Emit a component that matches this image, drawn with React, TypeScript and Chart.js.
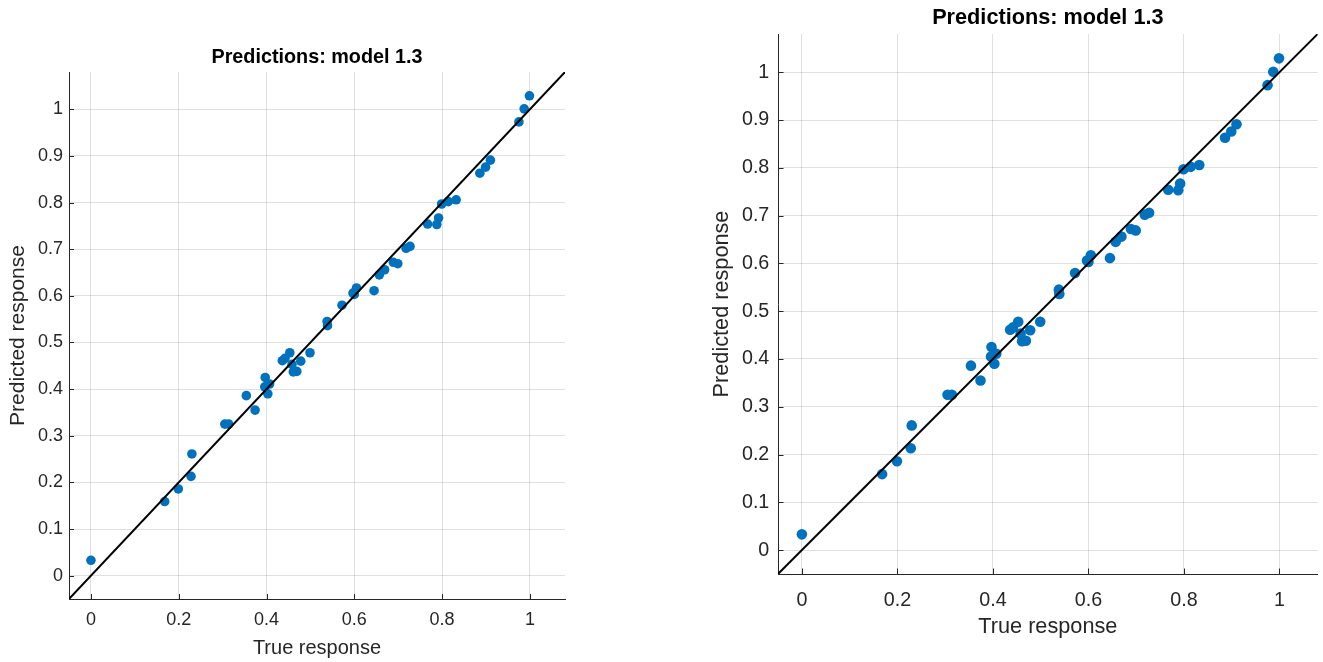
import React, { useEffect, useRef } from "react";
import { Chart, registerables } from "chart.js";

Chart.register(...registerables);

// ---- data ----
const TRUE_RESPONSE = [
  0.0, 0.168, 0.199, 0.228, 0.23, 0.305, 0.314, 0.354, 0.374, 0.396, 0.397, 0.403,
  0.407, 0.436, 0.442, 0.453, 0.458, 0.461, 0.469, 0.478, 0.499, 0.538, 0.539, 0.572,
  0.597, 0.6, 0.605, 0.645, 0.657, 0.669, 0.689, 0.699, 0.718, 0.727, 0.767, 0.788,
  0.792, 0.799, 0.814, 0.832, 0.886, 0.899, 0.91, 0.975, 0.987, 0.999,
];
const PREDICTED_RESPONSE = [
  0.033, 0.159, 0.186, 0.213, 0.261, 0.325, 0.325, 0.386, 0.355, 0.405, 0.425, 0.39,
  0.411, 0.461, 0.466, 0.478, 0.453, 0.437, 0.438, 0.46, 0.478, 0.545, 0.536, 0.58,
  0.606, 0.603, 0.617, 0.611, 0.645, 0.656, 0.672, 0.669, 0.702, 0.706, 0.754, 0.753,
  0.767, 0.797, 0.802, 0.806, 0.863, 0.876, 0.891, 0.973, 1.001, 1.029,
];
const X_TICKS = [0, 0.2, 0.4, 0.6, 0.8, 1];
const X_TICK_LABELS = ["0", "0.2", "0.4", "0.6", "0.8", "1"];
const Y_TICKS = [0, 0.1, 0.2, 0.3, 0.4, 0.5, 0.6, 0.7, 0.8, 0.9, 1];
const Y_TICK_LABELS = ["0", "0.1", "0.2", "0.3", "0.4", "0.5", "0.6", "0.7", "0.8", "0.9", "1"];
const AXIS_LIMITS = [-0.05, 1.08];
const TITLE = "Predictions: model 1.3";
const X_LABEL = "True response";
const Y_LABEL = "Predicted response";

const FONT = "'Liberation Sans', Arial, Helvetica, sans-serif";
const AXIS_COLOR = "#262626";
const GRID_COLOR = "rgba(38,38,38,0.14)";
const MARKER_COLOR = "#0072BD";

type Layout = {
  width: number;
  height: number;
  tickFont: number;
  xLabelFont: number;
  yLabelFont: number;
  titleFont: number;
  titleY: number;
  padding: { left: number; top: number; right: number; bottom: number };
  yWidth: number;
  xHeight: number;
  yTickPad: number;
  xTickPad: number;
  pointRadius: number;
  tickLen: number;
};

const LEFT_LAYOUT: Layout = {
  width: 661,
  height: 662,
  tickFont: 18,
  xLabelFont: 20,
  yLabelFont: 21,
  titleFont: 19.8,
  titleY: 57.5,
  padding: { left: 5.4, top: 72, right: 96, bottom: 2 },
  yWidth: 63.6,
  xHeight: 61,
  yTickPad: 6,
  xTickPad: 10.6,
  pointRadius: 4.8,
  tickLen: 5,
};

const RIGHT_LAYOUT: Layout = {
  width: 662,
  height: 662,
  tickFont: 19.7,
  xLabelFont: 21.7,
  yLabelFont: 21.7,
  titleFont: 21.7,
  titleY: 18.5,
  padding: { left: 48.4, top: 34, right: 1, bottom: 21.5 },
  yWidth: 68.6,
  xHeight: 66.5,
  yTickPad: 8.7,
  xTickPad: 15,
  pointRadius: 5.3,
  tickLen: 5.5,
};

function buildConfig(L: Layout): any {
  const points = TRUE_RESPONSE.map((x, i) => ({ x, y: PREDICTED_RESPONSE[i] }));
  const identity = [
    { x: AXIS_LIMITS[0], y: AXIS_LIMITS[0] },
    { x: AXIS_LIMITS[1], y: AXIS_LIMITS[1] },
  ];
  const decorations = {
    id: "matlabDecorations",
    afterDraw(chart: any) {
      const { ctx, chartArea, scales } = chart;
      ctx.save();
      // inward tick marks
      ctx.strokeStyle = AXIS_COLOR;
      ctx.lineWidth = 1;
      ctx.beginPath();
      X_TICKS.forEach((v) => {
        const px = Math.round(scales.x.getPixelForValue(v)) + 0.5;
        ctx.moveTo(px, chartArea.bottom);
        ctx.lineTo(px, chartArea.bottom - L.tickLen);
      });
      Y_TICKS.forEach((v) => {
        const py = Math.round(scales.y.getPixelForValue(v)) + 0.5;
        ctx.moveTo(chartArea.left, py);
        ctx.lineTo(chartArea.left + L.tickLen, py);
      });
      ctx.stroke();
      // title centred over the axes
      ctx.fillStyle = "#000000";
      ctx.font = `bold ${L.titleFont}px ${FONT}`;
      ctx.textAlign = "center";
      ctx.textBaseline = "middle";
      ctx.fillText(TITLE, (chartArea.left + chartArea.right) / 2, L.titleY);
      ctx.restore();
    },
  };
  return {
    type: "scatter",
    data: {
      datasets: [
        {
          type: "line",
          data: identity,
          borderColor: "#000000",
          borderWidth: 2,
          pointRadius: 0,
          fill: false,
        },
        {
          data: points,
          backgroundColor: MARKER_COLOR,
          borderColor: MARKER_COLOR,
          borderWidth: 0,
          pointRadius: L.pointRadius,
        },
      ],
    },
    options: {
      animation: false,
      responsive: false,
      events: [],
      layout: { padding: L.padding },
      plugins: {
        legend: { display: false },
        tooltip: { enabled: false },
        title: { display: false },
      },
      scales: {
        x: {
          type: "linear",
          min: AXIS_LIMITS[0],
          max: AXIS_LIMITS[1],
          afterBuildTicks: (scale: any) => {
            scale.ticks = X_TICKS.map((v) => ({ value: v }));
          },
          afterFit: (scale: any) => {
            scale.height = L.xHeight;
          },
          ticks: {
            autoSkip: false,
            maxRotation: 0,
            padding: L.xTickPad,
            color: AXIS_COLOR,
            font: { family: FONT, size: L.tickFont, lineHeight: 1.2 },
            callback: (_v: any, i: number) => X_TICK_LABELS[i],
          },
          grid: { color: GRID_COLOR, drawTicks: false, lineWidth: 1 },
          border: { display: true, color: AXIS_COLOR, width: 1 },
          title: {
            display: true,
            text: X_LABEL,
            color: AXIS_COLOR,
            font: { family: FONT, size: L.xLabelFont, lineHeight: 1.2 },
            padding: { top: 0, bottom: 0 },
          },
        },
        y: {
          type: "linear",
          min: AXIS_LIMITS[0],
          max: AXIS_LIMITS[1],
          afterBuildTicks: (scale: any) => {
            scale.ticks = Y_TICKS.map((v) => ({ value: v }));
          },
          afterFit: (scale: any) => {
            scale.width = L.yWidth;
          },
          ticks: {
            autoSkip: false,
            padding: L.yTickPad,
            color: AXIS_COLOR,
            font: { family: FONT, size: L.tickFont, lineHeight: 1.2 },
            callback: (_v: any, i: number) => Y_TICK_LABELS[i],
          },
          grid: { color: GRID_COLOR, drawTicks: false, lineWidth: 1 },
          border: { display: true, color: AXIS_COLOR, width: 1 },
          title: {
            display: true,
            text: Y_LABEL,
            color: AXIS_COLOR,
            font: { family: FONT, size: L.yLabelFont, lineHeight: 1.2 },
            padding: { top: 0, bottom: 0 },
          },
        },
      },
    },
    plugins: [decorations],
  };
}

function PredictionPlot({ layout, left }: { layout: Layout; left: number }) {
  const ref = useRef<HTMLCanvasElement | null>(null);
  useEffect(() => {
    if (!ref.current) return;
    const chart = new Chart(ref.current, buildConfig(layout));
    return () => chart.destroy();
  }, [layout]);
  return (
    <canvas
      ref={ref}
      width={layout.width}
      height={layout.height}
      style={{
        position: "absolute",
        left,
        top: 0,
        width: layout.width,
        height: layout.height,
        display: "block",
      }}
    />
  );
}

export default function App() {
  return (
    <div
      style={{
        position: "fixed",
        left: 0,
        top: 0,
        width: 1323,
        height: 662,
        background: "#ffffff",
        overflow: "hidden",
      }}
    >
      <PredictionPlot layout={LEFT_LAYOUT} left={0} />
      <PredictionPlot layout={RIGHT_LAYOUT} left={661} />
    </div>
  );
}
